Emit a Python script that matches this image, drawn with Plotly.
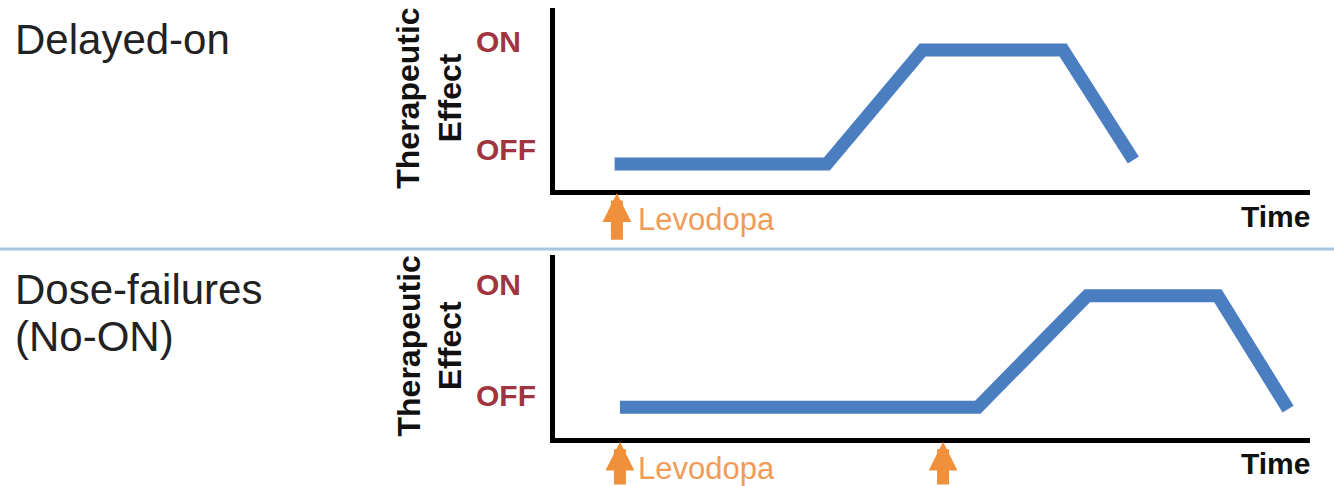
import plotly.graph_objects as go

W, H = 1334, 486

# ---------------- data ----------------
panel_titles = [["Delayed-on"], ["Dose-failures", "(No-ON)"]]
level_labels = ["OFF", "ON"]

# Panel 1: delayed-on (time in arbitrary units 0-100, effect 0-1)
t_delayed = [7.9, 36.0, 48.7, 67.3, 76.6]
effect_delayed = [0.14, 0.14, 0.769, 0.769, 0.163]
label_levels_delayed = [0.218, 0.818]
doses_delayed = [8.2]

# Panel 2: dose failure (no-ON)
t_failure = [8.6, 56.0, 70.5, 87.8, 97.1]
effect_failure = [0.168, 0.168, 0.777, 0.777, 0.158]
label_levels_failure = [0.234, 0.837]
doses_failure = [8.6, 51.4]

dose_label = "Levodopa"
x_title = "Time"
y_title = "Therapeutic<br>Effect"

# ---------------- styles ----------------
FONT = "Arial, Liberation Sans, sans-serif"
LINE_COLOR = "#4A7EC1"
ARROW_COLOR = "#F0903A"
TEXT_ORANGE = "#F19B58"
LEVEL_COLOR = "#A0353F"


def px_x(p):
    return p / W


def px_y(p):
    return 1 - p / H


# panel geometry (pixels)
panels = [
    dict(top=8, bottom=189.5, title_y=[39], lev_y=220, time_y=216,
         t=t_delayed, e=effect_delayed, levels=label_levels_delayed, doses=doses_delayed),
    dict(top=255, bottom=438, title_y=[289, 336], lev_y=468, time_y=463,
         t=t_failure, e=effect_failure, levels=label_levels_failure, doses=doses_failure),
]
X_LEFT, X_RIGHT = 555, 1310

fig = go.Figure()
annotations = []

for i, p in enumerate(panels):
    n = "" if i == 0 else str(i + 1)
    xa, ya = "x" + n, "y" + n
    fig.add_trace(go.Scatter(
        x=p["t"], y=p["e"], mode="lines", xaxis=xa, yaxis=ya,
        line=dict(color=LINE_COLOR, width=13), hoverinfo="skip", showlegend=False,
    ))
    axis_common = dict(showline=True, linewidth=5, linecolor="black", showgrid=False,
                       zeroline=False, showticklabels=False, ticks="", fixedrange=True)
    fig.update_layout(**{
        "xaxis" + n: dict(domain=[px_x(X_LEFT), px_x(X_RIGHT)], range=[0, 100],
                          anchor=ya, **axis_common),
        "yaxis" + n: dict(domain=[px_y(p["bottom"]), px_y(p["top"])], range=[0, 1],
                          anchor=xa, **axis_common),
    })

    # panel titles at left
    for txt, yy in zip(panel_titles[i], p["title_y"]):
        annotations.append(dict(text=txt, xref="paper", yref="paper", x=px_x(13), y=px_y(yy),
                                xanchor="left", yanchor="middle", showarrow=False,
                                font=dict(family=FONT, size=42, color="#222222")))

    # OFF / ON level labels
    for lab, lv in zip(level_labels, p["levels"]):
        annotations.append(dict(text=lab, xref="paper", yref=ya, x=px_x(474), y=lv,
                                xanchor="left", yanchor="middle", showarrow=False,
                                font=dict(family=FONT, size=30, color=LEVEL_COLOR, weight="bold")))

    # y title
    annotations.append(dict(text=y_title, xref="paper", yref=ya + " domain", x=px_x(429), y=0.5,
                            xanchor="center", yanchor="middle", textangle=-90, showarrow=False,
                            font=dict(family=FONT, size=32, color="#111111", weight="bold")))

    # x title
    annotations.append(dict(text=x_title, xref="paper", yref="paper", x=px_x(1312),
                            y=px_y(p["time_y"]), xanchor="right", yanchor="middle", showarrow=False,
                            font=dict(family=FONT, size=30, color="#111111", weight="bold")))

    # dose arrows
    for d in p["doses"]:
        annotations.append(dict(text="", xref=xa, yref=ya + " domain", x=d, y=-0.02,
                                ax=0, ay=48, showarrow=True, arrowhead=2, arrowsize=0.48,
                                arrowwidth=12, arrowcolor=ARROW_COLOR, standoff=0))
    # dose label next to first arrow
    annotations.append(dict(text=dose_label, xref="paper", yref="paper", x=px_x(636),
                            y=px_y(p["lev_y"]), xanchor="left", yanchor="middle", showarrow=False,
                            font=dict(family=FONT, size=31, color=TEXT_ORANGE)))

fig.update_layout(
    width=W, height=H,
    margin=dict(l=0, r=0, t=0, b=0),
    paper_bgcolor="white", plot_bgcolor="white",
    annotations=annotations,
    shapes=[dict(type="line", xref="paper", yref="paper", x0=0, x1=1,
                 y0=px_y(249), y1=px_y(249), line=dict(color="#A9C3E0", width=3))],
    showlegend=False,
)

fig.write_html("out.html", config={"displayModeBar": False},
               post_script="document.body.style.margin='0';document.body.style.overflow='hidden';")
